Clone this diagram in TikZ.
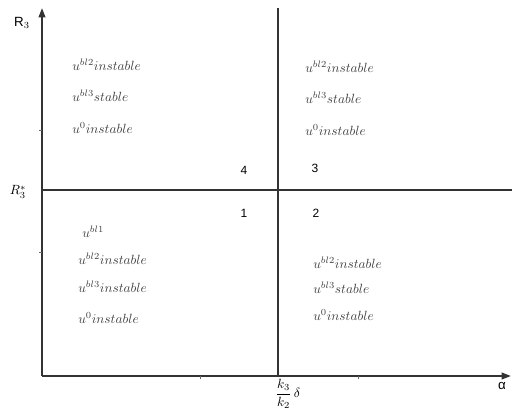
\documentclass[tikz,border=0pt]{standalone}
\usepackage{amsmath,amssymb}
\usepackage{fontspec}
\newfontfamily\labelfont{Liberation Sans}
\usepackage{tikz}
\usetikzlibrary{arrows.meta,positioning}

\begin{document}
\begin{tikzpicture}[
x=0.75pt,y=-0.75pt,
axis/.style={-{Triangle[length=7pt,width=5pt]},line width=1.4pt,draw=black!80},
divider/.style={line width=1.4pt,draw=black!80},
tickmark/.style={line width=0.6pt,draw=black!60},
state/.style={anchor=west,inner sep=0pt,text=black!75,font=\normalsize},
region/.style={inner sep=0pt,font=\labelfont\small},
axislabel/.style={inner sep=0pt,font=\labelfont\normalsize}
]
\useasboundingbox (0,0) rectangle (512,417);
% axes
\coordinate (origin) at (42,376);
\coordinate (ytop) at (42,8);
\coordinate (xend) at (511,376);
\draw[axis] (origin)--(ytop);
\draw[axis] (origin)--(xend);
% dividing lines
\coordinate (hleft) at (42,190);
\coordinate (hright) at (512,190);
\coordinate (vtop) at (278,8);
\coordinate (vbot) at (278,376);
\draw[divider] (hleft)--(hright);
\draw[divider] (vtop)--(vbot);
% small ticks
\draw[tickmark] (39,130)--(42,130);
\draw[tickmark] (39,252)--(42,252);
\draw[tickmark] (200,376)--(200,379);
\draw[tickmark] (358,376)--(358,379);
% axis labels
\node[axislabel] (ylab) at (22,23) {R$_3$};
\node[axislabel] (xlab) at (502,386) {α};
\node[inner sep=0pt] (rstar) at (18,192) {$R_3^*$};
\node[inner sep=0pt] (kdelta) at (288,394) {$\dfrac{k_3}{k_2}\,\delta$};
% region numbers
\node[region] (n4) at (244,170) {4};
\node[region] (n3) at (315,168) {3};
\node[region] (n1) at (244,213) {1};
\node[region] (n2) at (316,213) {2};
% top left
\node[state] (tl1) at (72,65) {$u^{bl2} instable$};
\node[state] (tl2) at (72,96) {$u^{bl3} stable$};
\node[state] (tl3) at (72,128) {$u^{0} instable$};
% top right
\node[state] (tr1) at (305,67) {$u^{bl2} instable$};
\node[state] (tr2) at (305,98) {$u^{bl3} stable$};
\node[state] (tr3) at (305,130) {$u^{0} instable$};
% bottom left
\node[state] (bl0) at (82,232) {$u^{bl1}$};
\node[state] (bl1) at (78,259) {$u^{bl2} instable$};
\node[state] (bl2) at (78,287) {$u^{bl3} instable$};
\node[state] (bl3) at (78,318) {$u^{0} instable$};
% bottom right
\node[state] (br1) at (313,263) {$u^{bl2} instable$};
\node[state] (br2) at (313,288) {$u^{bl3} stable$};
\node[state] (br3) at (313,315) {$u^{0} instable$};
\end{tikzpicture}
\end{document}
